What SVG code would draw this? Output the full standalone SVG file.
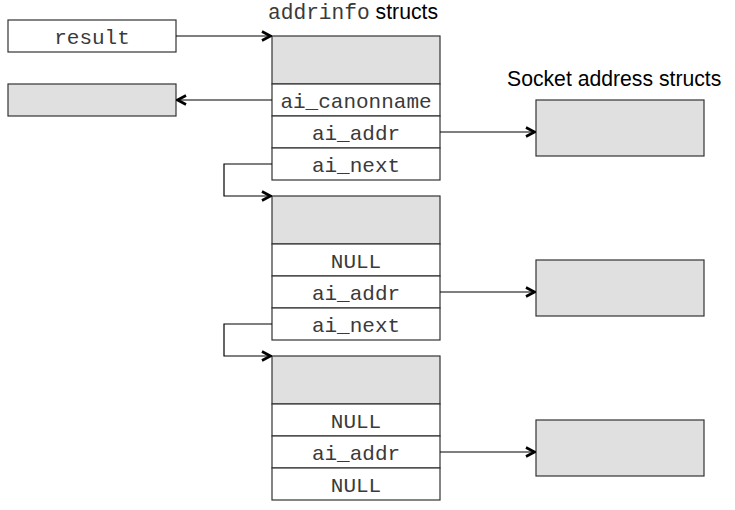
<svg xmlns="http://www.w3.org/2000/svg" width="735" height="510" viewBox="0 0 735 510">
<style>
.box{fill:#ffffff;stroke:#333333;stroke-width:1.2}
.grey{fill:#e0e0e0;stroke:#333333;stroke-width:1.2}
.mono{font-family:"Liberation Mono","Courier New",monospace;font-size:21px;fill:#3a3a3a;text-anchor:middle}
.sans{font-family:"Liberation Sans",Arial,sans-serif;font-size:21.2px;fill:#000000}
.conn{fill:none;stroke:#000000;stroke-width:1.2}
</style>
<defs>
<marker id="arr" viewBox="0 0 12 12" refX="11" refY="6" markerWidth="12" markerHeight="12" markerUnits="userSpaceOnUse" orient="auto">
<path d="M2,1.5 L10.5,6 L2,10.5" fill="none" stroke="#000" stroke-width="2.6"/>
</marker>
</defs>
<rect width="735" height="510" fill="#ffffff"/>
<text x="268" y="19" class="sans"><tspan style="font-family:'Liberation Mono','Courier New',monospace" fill="#3a3a3a">addrinfo</tspan> structs</text>
<text x="507" y="86" class="sans">Socket address structs</text>
<g id="result"><rect class="box" x="8" y="20" width="168" height="32"/><text class="mono" x="92" y="44">result</text></g>
<g id="canonname"><rect class="grey" x="8" y="84" width="168" height="32"/></g>
<g id="struct1">
<rect class="grey" x="272" y="36" width="168" height="48"/>
<rect class="box" x="272" y="84" width="168" height="32"/><text class="mono" x="356" y="108">ai_canonname</text>
<rect class="box" x="272" y="116" width="168" height="32"/><text class="mono" x="356" y="140">ai_addr</text>
<rect class="box" x="272" y="148" width="168" height="32"/><text class="mono" x="356" y="172">ai_next</text>
</g>
<g id="struct2">
<rect class="grey" x="272" y="196" width="168" height="48"/>
<rect class="box" x="272" y="244" width="168" height="32"/><text class="mono" x="356" y="268">NULL</text>
<rect class="box" x="272" y="276" width="168" height="32"/><text class="mono" x="356" y="300">ai_addr</text>
<rect class="box" x="272" y="308" width="168" height="32"/><text class="mono" x="356" y="332">ai_next</text>
</g>
<g id="struct3">
<rect class="grey" x="272" y="356" width="168" height="48"/>
<rect class="box" x="272" y="404" width="168" height="32"/><text class="mono" x="356" y="428">NULL</text>
<rect class="box" x="272" y="436" width="168" height="32"/><text class="mono" x="356" y="460">ai_addr</text>
<rect class="box" x="272" y="468" width="168" height="32"/><text class="mono" x="356" y="492">NULL</text>
</g>
<g id="sock1"><rect class="grey" x="536" y="100" width="168" height="56"/></g>
<g id="sock2"><rect class="grey" x="536" y="260" width="168" height="56"/></g>
<g id="sock3"><rect class="grey" x="536" y="420" width="168" height="56"/></g>
<g id="connectors">
<path class="conn" d="M176,36 H271" marker-end="url(#arr)"/>
<path class="conn" d="M272,100 H177" marker-end="url(#arr)"/>
<path class="conn" d="M440,132 H535" marker-end="url(#arr)"/>
<path class="conn" d="M272,164 H224 V196 H271" marker-end="url(#arr)"/>
<path class="conn" d="M440,292 H535" marker-end="url(#arr)"/>
<path class="conn" d="M272,324 H224 V356 H271" marker-end="url(#arr)"/>
<path class="conn" d="M440,452 H535" marker-end="url(#arr)"/>
</g>
</svg>
